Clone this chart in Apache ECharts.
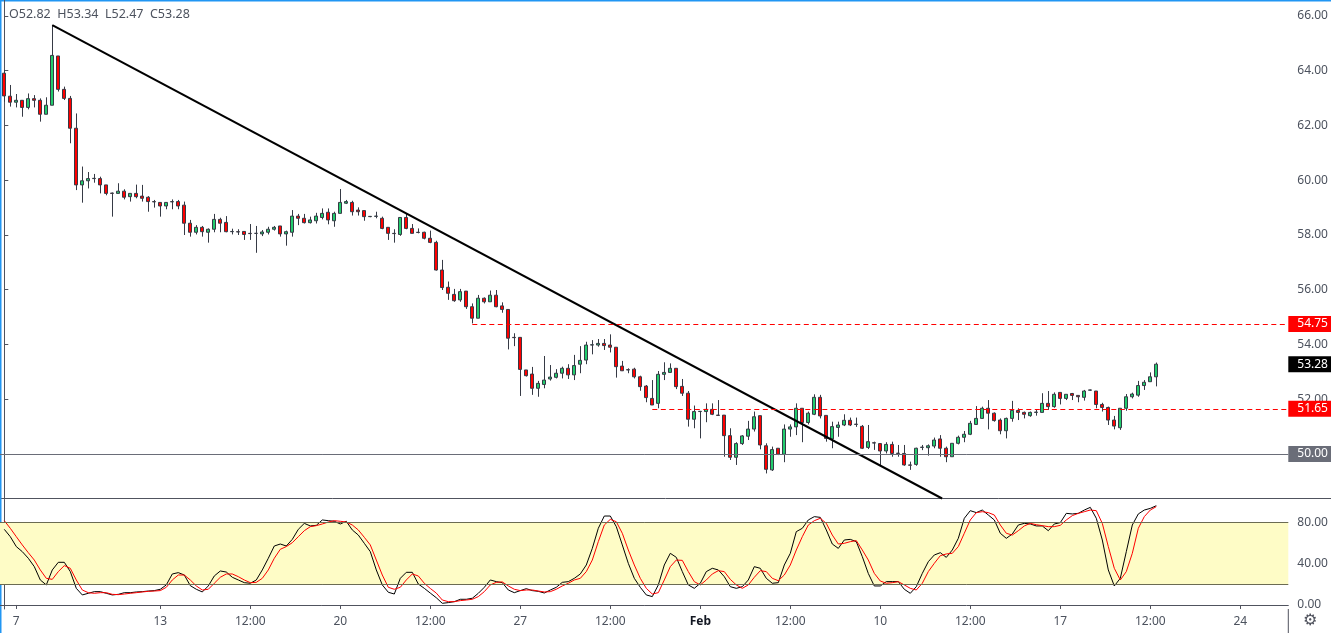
<!DOCTYPE html>
<html>
<head>
<meta charset="utf-8">
<title>Crude oil 4H</title>
<style>
  html, body { margin: 0; padding: 0; background: #fff; }
  #main { width: 1331px; height: 633px; }
</style>
<script src="https://cdn.jsdelivr.net/npm/echarts@6/dist/echarts.min.js"></script>
</head>
<body>
<div id="main"></div>
<script>
// 4h candles
var opens = [63.91,63.07,62.85,62.92,62.66,62.98,62.92,62.41,62.74,64.54,63.32,62.99,61.90,59.83,59.98,60.06,60.06,59.83,59.53,59.52,
  59.60,59.40,59.52,59.42,59.38,59.22,59.19,59.06,59.21,59.22,59.09,58.43,58.10,58.28,58.10,58.21,58.57,58.46,58.12,58.12,
  58.13,58.06,58.06,58.04,58.10,58.21,58.33,58.04,58.10,58.69,58.61,58.45,58.52,58.64,58.83,58.52,58.79,59.16,59.19,58.91,
  58.89,58.67,58.68,58.61,58.28,58.06,58.02,58.64,58.24,58.10,58.10,57.88,57.73,56.72,56.09,55.83,55.63,55.95,55.38,54.96,
  55.69,55.56,55.80,55.41,55.28,54.26,54.26,53.07,52.92,52.40,52.54,52.74,52.80,52.95,53.13,52.89,53.28,53.43,53.98,53.98,
  54.04,53.98,53.90,53.21,53.08,53.10,52.82,52.48,52.03,51.85,52.91,52.98,53.13,52.47,52.22,51.27,51.55,51.55,51.63,51.42,
  51.42,50.67,49.88,50.38,50.65,50.91,51.40,50.30,49.42,50.21,49.99,50.91,50.99,51.67,51.15,51.45,52.07,51.41,50.55,50.97,
  51.06,51.23,51.09,51.01,50.24,50.41,50.38,50.11,50.35,50.03,50.02,49.60,49.62,50.24,50.23,50.29,50.55,50.21,49.90,50.39,
  50.61,50.72,51.08,51.30,51.67,51.49,51.24,50.85,51.30,51.59,51.52,51.40,51.52,51.52,51.85,51.73,52.25,52.03,52.21,52.14,
  52.07,52.33,52.30,51.81,51.70,51.24,50.96,51.67,52.09,52.15,52.50,52.64,52.82];
var highs = [64.03,63.48,63.15,62.92,63.17,63.11,62.99,63.03,65.67,64.54,63.42,63.08,62.44,60.50,60.30,60.23,60.13,59.83,59.55,59.89,
  59.67,59.52,59.84,59.83,59.42,59.28,59.19,59.19,59.30,59.28,59.22,58.55,58.36,58.33,58.24,58.77,58.63,58.69,58.23,58.21,
  58.13,58.40,58.33,58.18,58.30,58.33,58.33,58.16,58.91,58.77,58.77,58.67,58.81,58.97,58.97,58.85,59.68,59.28,59.25,59.01,
  58.89,58.69,58.85,58.67,58.28,58.21,58.64,58.77,58.40,58.24,58.12,58.16,57.79,57.09,56.30,56.03,56.03,55.95,55.50,55.81,
  55.72,55.97,55.99,55.54,55.28,54.41,54.26,53.07,53.18,52.67,53.58,53.25,53.10,53.19,53.28,53.62,53.94,54.10,54.16,54.20,
  54.20,54.37,53.90,53.40,53.13,53.15,52.86,52.52,52.70,53.03,53.35,53.31,53.13,52.74,52.30,51.77,51.57,51.85,51.85,51.97,
  51.42,50.94,50.43,50.69,51.21,51.55,51.40,50.39,50.27,50.21,51.08,51.08,51.85,51.67,51.55,52.18,52.16,51.41,51.18,51.18,
  51.45,51.33,51.33,51.06,51.06,50.45,50.39,50.43,50.45,50.33,50.33,49.72,50.23,50.33,50.35,50.60,50.69,50.27,50.39,50.67,
  50.84,51.21,51.75,51.73,51.97,51.52,51.30,51.33,51.94,51.67,51.55,51.55,51.64,52.22,52.30,52.25,52.25,52.18,52.23,52.14,
  52.34,52.35,52.30,51.87,51.73,51.39,51.67,52.19,52.24,52.67,52.70,52.98,53.34];
var lows = [62.87,62.69,62.66,62.32,62.59,62.66,62.14,62.41,62.74,63.24,62.93,61.35,59.64,59.18,59.70,59.91,59.52,59.45,58.67,59.52,
  59.30,59.22,59.34,59.22,58.85,59.00,58.67,58.94,58.94,58.94,58.00,57.94,58.02,57.94,57.72,58.10,58.10,58.10,58.02,58.00,
  57.82,57.82,57.35,57.96,58.02,58.16,57.94,57.61,57.94,58.36,58.42,58.42,58.42,58.57,58.39,58.30,58.79,59.13,58.71,58.71,
  58.52,58.65,58.61,58.21,57.82,57.72,57.97,58.21,58.06,58.06,57.84,57.70,56.70,55.99,55.63,55.56,55.56,55.30,54.77,54.96,
  55.50,55.56,55.36,55.16,53.82,53.94,52.12,52.83,52.16,52.09,52.40,52.68,52.76,52.76,52.74,52.70,52.95,53.28,53.64,53.92,
  53.80,53.71,52.79,53.03,52.95,52.76,52.31,51.89,51.79,51.67,52.70,52.98,52.37,52.12,51.00,50.94,50.57,51.16,51.42,51.40,
  49.90,49.78,49.60,50.33,50.51,50.82,50.17,49.29,49.38,49.96,49.70,50.63,50.69,50.43,51.08,51.42,51.30,50.45,50.21,50.63,
  51.02,51.02,50.99,50.18,50.18,50.15,49.60,50.02,49.90,49.90,49.57,49.42,49.57,50.14,49.94,50.21,49.90,49.70,49.90,50.35,
  50.43,50.69,51.06,51.28,50.90,51.18,50.72,50.57,51.18,51.24,51.30,51.36,51.40,51.52,51.61,51.69,51.81,51.97,51.97,51.89,
  51.95,52.31,51.67,51.55,51.06,50.90,50.88,51.58,52.03,52.09,52.34,52.64,52.47];
var closes = [63.08,62.85,62.92,62.66,62.98,62.92,62.41,62.74,64.56,63.32,62.99,61.90,59.83,59.98,60.06,60.07,59.83,59.52,59.52,59.60,
  59.38,59.52,59.40,59.34,59.22,59.21,59.06,59.19,59.22,59.06,58.43,58.10,58.28,58.12,58.21,58.57,58.43,58.12,58.13,58.11,
  58.02,58.05,58.06,58.11,58.21,58.28,58.04,58.12,58.69,58.61,58.45,58.55,58.69,58.79,58.55,58.79,59.19,59.22,58.85,58.85,
  58.67,58.68,58.69,58.24,58.06,58.05,58.64,58.24,58.06,58.09,57.88,57.73,56.72,56.08,55.87,55.60,55.93,55.38,54.96,55.69,
  55.56,55.80,55.38,55.28,54.23,54.25,53.09,52.86,52.40,52.58,52.70,52.81,52.95,53.13,52.89,53.23,53.42,53.98,53.99,54.04,
  53.96,53.90,53.19,53.04,53.07,52.82,52.46,52.06,51.79,52.91,52.98,53.13,52.46,52.22,51.27,51.55,51.56,51.63,51.45,51.41,
  50.67,49.88,50.38,50.66,50.91,51.36,50.33,49.44,50.16,49.99,50.91,50.99,51.67,51.15,51.49,52.07,51.39,50.57,51.00,51.06,
  51.23,51.06,51.08,50.21,50.45,50.40,50.11,50.35,50.02,50.02,49.60,49.59,50.21,50.25,50.30,50.51,50.21,49.90,50.39,50.61,
  50.72,51.12,51.30,51.67,51.49,51.22,50.85,51.30,51.59,51.52,51.45,51.52,51.53,51.85,51.73,52.18,52.03,52.18,52.14,52.09,
  52.30,52.34,51.81,51.70,51.24,51.02,51.67,52.09,52.19,52.50,52.62,52.82,53.28];

// stochastic %K (black) and %D (red)
var kLine = [73.2,66.1,56.5,51.6,45.2,37.1,24.2,19.4,33.9,41.3,41.3,32.3,16.1,9.7,11.3,12.9,12.9,11.3,9.7,10.3,
  11.9,11.9,12.6,12.9,13.5,13.9,15.2,19.4,30.0,31.3,29.0,18.7,15.2,12.6,18.4,28.1,32.9,31.9,26.8,24.2,
  21.6,21.0,24.2,33.9,45.2,57.1,59.0,57.1,63.5,73.2,79.0,76.5,77.1,82.3,81.6,81.0,78.4,81.0,72.6,67.7,
  59.7,51.6,33.9,19.4,12.3,10.6,25.8,31.6,31.6,20.3,16.1,11.5,7.0,1.6,2.3,3.2,5.5,5.5,6.5,11.3,
  17.1,24.2,22.6,21.6,14.5,11.9,13.9,15.8,13.9,13.2,11.6,14.5,17.1,21.9,22.6,25.8,30.0,38.7,54.8,74.2,
  86.1,86.1,75.8,58.1,40.3,25.8,17.1,9.7,8.1,19.4,38.7,50.0,46.1,32.3,19.4,16.1,21.0,32.3,35.5,33.9,
  27.4,17.7,16.1,17.7,24.2,37.1,35.5,25.8,21.0,21.6,38.7,50.0,71.0,74.2,82.3,85.5,84.8,72.6,59.0,54.8,
  62.9,63.5,61.3,46.8,30.5,18.4,18.4,22.6,22.6,22.6,15.2,11.3,17.7,30.6,41.9,48.4,50.6,46.1,53.2,64.5,
  83.9,91.3,89.4,91.9,87.1,82.3,69.4,64.5,68.7,77.4,79.0,78.4,76.5,76.5,71.9,78.4,79.7,88.7,88.1,88.7,
  91.9,94.5,83.9,62.9,33.9,18.4,25.8,51.6,77.4,88.1,91.9,93.5,96.1];
var dLine = [81.6,74.2,66.1,58.1,50.6,43.5,33.9,25.8,24.8,32.3,38.1,35.5,24.2,14.5,11.9,11.3,11.9,11.9,10.3,10.0,
  10.6,11.3,11.9,12.6,13.2,13.5,13.9,17.1,24.2,29.0,29.0,24.2,18.4,14.5,15.2,21.0,26.8,30.0,30.0,27.4,
  24.2,21.6,21.9,25.8,33.9,45.2,53.9,56.5,60.3,66.1,71.9,75.8,76.8,78.4,80.3,81.6,81.0,80.3,77.4,72.6,
  65.5,58.1,43.5,29.0,17.1,15.2,17.1,24.2,30.0,28.1,21.0,16.0,11.5,4.8,3.2,3.2,4.2,4.8,5.5,8.1,
  12.9,19.4,21.9,22.3,18.4,15.2,13.9,14.5,14.5,13.5,12.6,12.9,15.2,18.4,21.0,24.2,25.8,32.3,43.5,61.3,
  77.4,82.9,80.6,69.4,53.2,38.7,25.8,16.1,10.6,11.9,24.2,37.1,43.5,43.2,32.3,22.6,19.4,24.2,30.0,33.2,
  32.3,24.8,19.4,16.1,19.4,26.8,33.2,32.3,25.8,23.5,29.0,38.7,53.2,66.1,77.4,81.6,83.9,79.0,67.7,59.0,
  59.7,61.3,62.3,53.2,43.5,30.6,23.2,21.0,21.6,22.6,19.4,16.1,14.5,21.0,32.3,40.3,47.7,49.4,50.0,56.5,
  69.4,82.3,89.4,90.3,89.4,87.1,77.4,69.4,67.7,71.9,76.5,79.0,77.7,76.8,75.8,75.8,77.1,82.3,86.5,88.7,
  90.3,91.9,91.3,79.0,56.5,35.5,24.2,32.3,50.0,74.2,85.5,91.9,95.2];

// time labels sit on bar indexes
var timeTicks = [2, 26, 41, 56, 71, 86, 101, 116, 131, 146, 161, 176, 191, 206];
var timeLabels = ['7', '13', '12:00', '20', '12:00', '27', '12:00', 'Feb', '12:00', '10', '12:00', '17', '12:00', '24'];
var priceTicks = [50, 52, 54, 56, 58, 60, 62, 64, 66];
var stochTicks = [0, 40, 80];
var stochBand = [20, 80];

// drawn levels: [price, first bar]
var resistance = [54.75, 78];
var support = [51.65, 108];
var roundLevel = 50.00;
var trendLine = [[8, 65.67], [156.3, 48.374]];

var chart = echarts.init(document.getElementById('main'));

var candles = [], kData = [], dData = [];
for (var i = 0; i < opens.length; i++) {
  candles.push([i, opens[i], closes[i], lows[i], highs[i]]);
  kData.push([i, kLine[i]]);
  dData.push([i, dLine[i]]);
}
var last = opens.length - 1;
var xMin = -0.7167, xMax = 214;

var fontFam = 'Noto Sans';
var axisColor = '#50535e';
var textColor = '#4c525e';

function levelLabel(bg) {
  return {
    show: true, position: 'end', distance: 0,
    formatter: function (p) { return p.name; },
    backgroundColor: bg, color: '#fff',
    padding: [2, 9, 2, 9], fontSize: 12, fontFamily: fontFam
  };
}

var option = {
  animation: false,
  backgroundColor: '#fff',
  grid: [
    { left: 0, right: 42.7, top: 0, height: 498.5 },
    { left: 0, right: 42.7, top: 499.5, height: 109.5 }
  ],
  xAxis: [
    { type: 'value', gridIndex: 0, min: xMin, max: xMax,
      axisLine: { show: false }, axisTick: { show: false }, axisLabel: { show: false }, splitLine: { show: false } },
    { type: 'value', gridIndex: 1, min: xMin, max: xMax,
      axisLine: { show: true, lineStyle: { color: axisColor } },
      axisTick: { show: true, customValues: timeTicks, length: 4, lineStyle: { color: axisColor } },
      axisLabel: {
        customValues: timeTicks, margin: 7, color: textColor, fontSize: 12, fontFamily: fontFam,
        formatter: function (v) {
          var t = timeLabels[timeTicks.indexOf(Math.round(v))] || '';
          return t === 'Feb' ? '{b|Feb}' : t;
        },
        rich: { b: { fontWeight: 'bold', color: '#131722', fontSize: 12, fontFamily: fontFam } }
      },
      splitLine: { show: false } }
  ],
  yAxis: [
    { type: 'value', gridIndex: 0, position: 'right', min: 48.374, max: 66.584,
      axisLine: { show: true, lineStyle: { color: axisColor } },
      axisTick: { show: true, customValues: priceTicks, length: 4, lineStyle: { color: axisColor } },
      axisLabel: { customValues: priceTicks, margin: 9, color: textColor, fontSize: 12, fontFamily: fontFam,
        formatter: function (v) { return v.toFixed(2); } },
      splitLine: { show: false } },
    { type: 'value', gridIndex: 1, position: 'right', min: -3.9, max: 102.1,
      axisLine: { show: true, lineStyle: { color: axisColor } },
      axisTick: { show: true, customValues: stochTicks, length: 4, lineStyle: { color: axisColor } },
      axisLabel: { customValues: stochTicks, margin: 9, color: textColor, fontSize: 12, fontFamily: fontFam,
        formatter: function (v) { return v.toFixed(2); } },
      splitLine: { show: false } }
  ],
  series: [
    {
      name: 'price', type: 'candlestick', xAxisIndex: 0, yAxisIndex: 0,
      data: candles, encode: { x: 0, y: [1, 2, 3, 4] },
      barWidth: 3.6, clip: false,
      itemStyle: { color: '#22cc6d', color0: '#ff0000', borderColor: '#363a45', borderColor0: '#363a45', borderWidth: 1 },
      markLine: {
        silent: true, symbol: ['none', 'none'], animation: false,
        data: [
          [{ coord: trendLine[0], lineStyle: { color: '#000', width: 2, type: 'solid' }, label: { show: false } },
           { coord: trendLine[1] }],
          [{ name: resistance[0].toFixed(2), coord: [resistance[1], resistance[0]],
             lineStyle: { color: '#ff0000', width: 1, type: [5, 3.5] }, label: levelLabel('#ff0000') },
           { coord: [xMax, resistance[0]] }],
          [{ name: support[0].toFixed(2), coord: [support[1], support[0]],
             lineStyle: { color: '#ff0000', width: 1, type: [5, 3.5] }, label: levelLabel('#ff0000') },
           { coord: [xMax, support[0]] }],
          { name: roundLevel.toFixed(2), yAxis: roundLevel,
            lineStyle: { color: '#6a6d78', width: 1, type: 'solid' }, label: levelLabel('#6a6d78') },
          { name: closes[last].toFixed(2), yAxis: closes[last],
            lineStyle: { color: 'rgba(0,0,0,0)', width: 1, type: 'solid' }, label: levelLabel('#000') }
        ]
      }
    },
    {
      name: '%K', type: 'line', xAxisIndex: 1, yAxisIndex: 1, data: kData,
      showSymbol: false, lineStyle: { color: '#000', width: 1 }, z: 3,
      markArea: { silent: true, itemStyle: { color: '#fefcc6' },
        data: [[{ yAxis: stochBand[0] }, { yAxis: stochBand[1] }]] },
      markLine: { silent: true, symbol: ['none', 'none'], label: { show: false },
        lineStyle: { color: '#6b6b52', width: 1, type: 'solid' },
        data: [{ yAxis: stochBand[0] }, { yAxis: stochBand[1] }] }
    },
    {
      name: '%D', type: 'line', xAxisIndex: 1, yAxisIndex: 1, data: dData,
      showSymbol: false, lineStyle: { color: '#ff0000', width: 1 }, z: 4
    }
  ],
  graphic: [
    { type: 'text', left: 9, top: 8,
      style: { text: 'O' + opens[last].toFixed(2) + '  H' + highs[last].toFixed(2) + '  L' + lows[last].toFixed(2) + '  C' + closes[last].toFixed(2),
        fill: textColor, fontSize: 12.5, fontFamily: fontFam } },
    { type: 'line', shape: { x1: 0, y1: 498.5, x2: 1331, y2: 498.5 }, style: { stroke: axisColor, lineWidth: 1 } },
    { type: 'line', shape: { x1: 1288.3, y1: 609, x2: 1288.3, y2: 633 }, style: { stroke: axisColor, lineWidth: 1 } },
    { type: 'rect', shape: { x: 0, y: 0, width: 1331, height: 1.5 }, style: { fill: '#2196f3' } },
    { type: 'rect', shape: { x: 0, y: 0, width: 1.5, height: 633 }, style: { fill: '#2196f3' } },
    { type: 'text', left: 1303, top: 613, style: { text: '\u2699', fill: axisColor, fontSize: 16, fontFamily: 'DejaVu Sans' } }
  ]
};

chart.setOption(option);
</script>
</body>
</html>
